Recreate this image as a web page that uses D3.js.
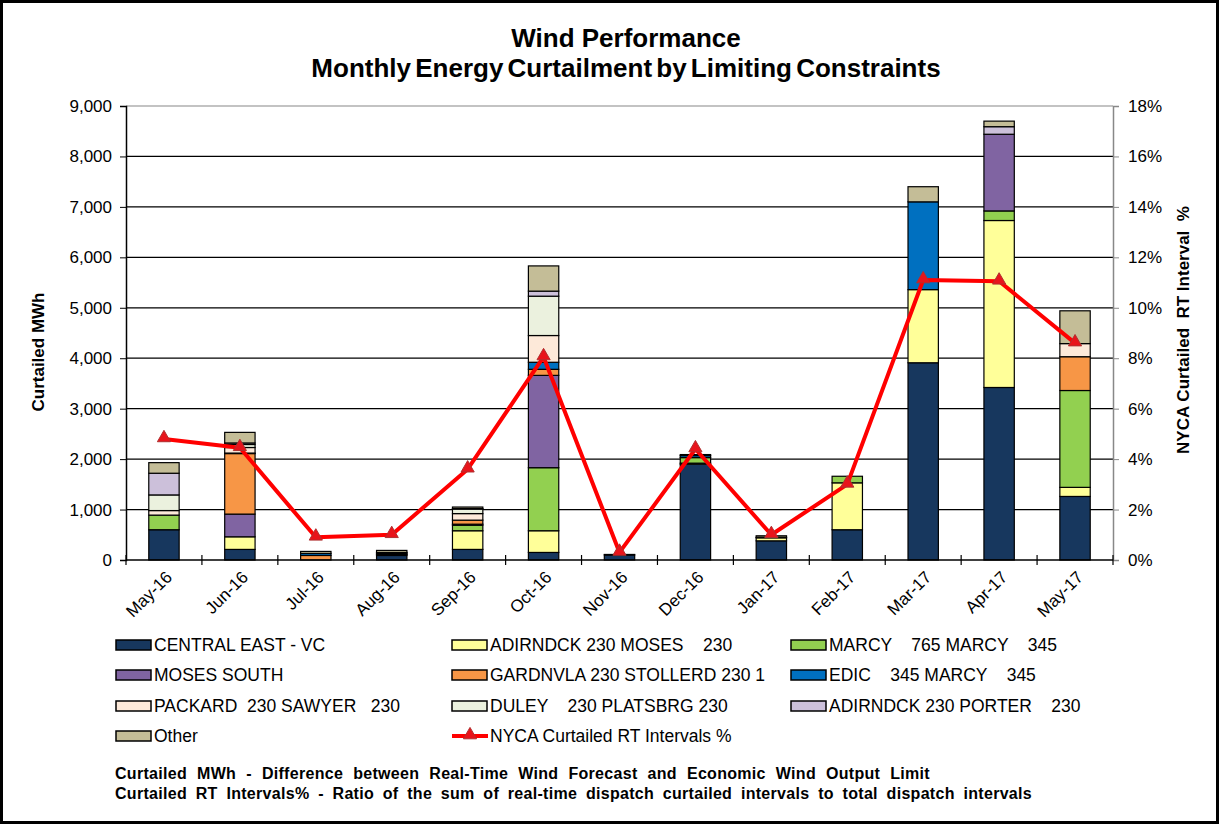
<!DOCTYPE html>
<html>
<head>
<meta charset="utf-8">
<script src="https://cdn.jsdelivr.net/npm/d3@7"></script>
<style>
  body { margin: 0; background: #fff; }
  svg text { font-family: Arial, "Liberation Sans", sans-serif; fill: #000; }
</style>
</head>
<body>
<svg id="chart" width="1220" height="826"></svg>
<script>
// Values (MWh per constraint, stacked bottom to top)
const months = ['May-16', 'Jun-16', 'Jul-16', 'Aug-16', 'Sep-16', 'Oct-16', 'Nov-16',
  'Dec-16', 'Jan-17', 'Feb-17', 'Mar-17', 'Apr-17', 'May-17'];

const centralEast   = [600, 210, 0, 90, 210, 150, 100, 1900, 380, 600, 3910, 3420, 1260];
const adirndckMoses = [0, 250, 0, 0, 370, 430, 0, 20, 60, 930, 1450, 3310, 180];
const marcy         = [290, 0, 0, 0, 110, 1250, 0, 110, 10, 130, 0, 190, 1920];
const mosesSouth    = [0, 450, 0, 0, 20, 1830, 0, 0, 0, 0, 0, 1520, 0];
const gardnvla      = [0, 1200, 90, 0, 80, 120, 0, 0, 0, 0, 0, 0, 670];
const edic          = [0, 10, 40, 20, 0, 140, 10, 40, 0, 0, 1740, 0, 0];
const packard       = [90, 110, 0, 10, 130, 530, 0, 0, 0, 0, 0, 0, 260];
const duley         = [310, 60, 0, 20, 90, 780, 0, 0, 0, 0, 0, 0, 0];
const porter        = [430, 30, 0, 10, 10, 100, 0, 0, 0, 0, 0, 150, 0];
const other         = [210, 210, 40, 40, 30, 500, 0, 20, 30, 0, 300, 110, 650];

// NYCA curtailed RT intervals, percent
const curtailedPct = [4.8, 4.45, 0.9, 1.0, 3.6, 8.05, 0.3, 4.4, 1.0, 3.0, 11.1, 11.05, 8.6];

const seriesNames = ['CENTRAL EAST - VC', 'ADIRNDCK 230 MOSES    230', 'MARCY    765 MARCY    345',
  'MOSES SOUTH', 'GARDNVLA 230 STOLLERD 230 1', 'EDIC    345 MARCY    345',
  'PACKARD  230 SAWYER   230', 'DULEY    230 PLATSBRG 230', 'ADIRNDCK 230 PORTER    230', 'Other'];
const seriesValues = [centralEast, adirndckMoses, marcy, mosesSouth, gardnvla, edic,
  packard, duley, porter, other];
const seriesColors = ['#17375E', '#FFFF99', '#92D050', '#8064A2', '#F79646', '#0070C0',
  '#FDE9D9', '#EBF1DE', '#CCC0DA', '#C4BD97'];
const lineName = 'NYCA Curtailed RT Intervals %';

const yTicks = [0, 1000, 2000, 3000, 4000, 5000, 6000, 7000, 8000, 9000];
const y2Ticks = [0, 0.02, 0.04, 0.06, 0.08, 0.10, 0.12, 0.14, 0.16, 0.18];

var svg = d3.select('#chart');

// frame
svg.append('rect')
  .attr('x', 1.5).attr('y', 1.5)
  .attr('width', 1216).attr('height', 821)
  .attr('fill', '#fff')
  .attr('stroke', '#000')
  .attr('stroke-width', 3);

var plotLeft = 126, plotRight = 1113, plotTop = 106, plotBottom = 560;

var x = d3.scaleBand()
  .domain(months)
  .range([plotLeft, plotRight])
  .paddingInner(0.6)
  .paddingOuter(0.3);

var y = d3.scaleLinear().domain([0, 9000]).range([plotBottom, plotTop]);
var y2 = d3.scaleLinear().domain([0, 0.18]).range([plotBottom, plotTop]);

// gridlines
svg.append('g')
  .selectAll('line')
  .data(yTicks.slice(1))
  .enter()
  .append('line')
  .attr('x1', plotLeft).attr('x2', plotRight)
  .attr('y1', d => y(d)).attr('y2', d => y(d))
  .attr('stroke', d => (d === 9000 ? '#888' : '#000'))
  .attr('stroke-width', 1.2);

// stacked bars
var rows = months.map(function(m, i) {
  var row = { month: m };
  seriesNames.forEach(function(name, s) {
    row[name] = seriesValues[s][i];
  });
  return row;
});

var stacked = d3.stack().keys(seriesNames)(rows);

svg.append('g')
  .selectAll('g')
  .data(stacked)
  .enter()
  .append('g')
  .attr('fill', (d, i) => seriesColors[i])
  .selectAll('rect')
  .data(d => d.filter(p => p[1] - p[0] > 0))
  .enter()
  .append('rect')
  .attr('x', d => x(d.data.month))
  .attr('width', x.bandwidth())
  .attr('y', d => y(d[1]))
  .attr('height', d => y(d[0]) - y(d[1]))
  .attr('stroke', '#000')
  .attr('stroke-width', 1.2);

// left axis
var yAxis = svg.append('g')
  .attr('transform', 'translate(' + plotLeft + ',0)')
  .call(d3.axisLeft(y).tickValues(yTicks).tickFormat(d3.format(',')).tickSize(6).tickPadding(8));
yAxis.select('.domain').attr('stroke', '#000').attr('stroke-width', 1.5);
yAxis.selectAll('text').style('font-size', '17px').style('font-family', 'Arial, "Liberation Sans", sans-serif');

// right axis
var y2Axis = svg.append('g')
  .attr('transform', 'translate(' + plotRight + ',0)')
  .call(d3.axisRight(y2).tickValues(y2Ticks).tickFormat(d3.format('.0%')).tickSize(6).tickPadding(9));
y2Axis.select('.domain').attr('stroke', '#888').attr('stroke-width', 1.5);
y2Axis.selectAll('.tick line').attr('stroke', '#888');
y2Axis.selectAll('text').style('font-size', '17px').style('font-family', 'Arial, "Liberation Sans", sans-serif');

// x axis: line, ticks between categories, rotated labels
var step = x.step();
var xAxis = svg.append('g');
xAxis.append('line')
  .attr('x1', plotLeft).attr('x2', plotRight)
  .attr('y1', plotBottom).attr('y2', plotBottom)
  .attr('stroke', '#000').attr('stroke-width', 1.5);
xAxis.selectAll('.xtick')
  .data([plotLeft].concat(months.map(m => x(m) + x.bandwidth() / 2 + step / 2)))
  .enter()
  .append('line')
  .attr('x1', d => d).attr('x2', d => d)
  .attr('y1', plotBottom - 5).attr('y2', plotBottom + 5)
  .attr('stroke', '#000').attr('stroke-width', 1.2);
xAxis.selectAll('text')
  .data(months)
  .enter()
  .append('text')
  .attr('transform', d => 'translate(' + (x(d) + x.bandwidth() / 2 + 5) + ',' + (plotBottom + 14) + ') rotate(-45)')
  .attr('text-anchor', 'end')
  .attr('dy', '0.35em')
  .style('font-size', '17px')
  .text(d => d);

// line series
var pts = months.map((m, i) => [x(m) + x.bandwidth() / 2, y2(curtailedPct[i] / 100)]);
svg.append('path')
  .datum(pts)
  .attr('d', d3.line())
  .attr('fill', 'none')
  .attr('stroke', '#FF0000')
  .attr('stroke-width', 4)
  .attr('stroke-linejoin', 'round');

var tri = d3.symbol().type(d3.symbolTriangle).size(75);
svg.append('g')
  .selectAll('path')
  .data(pts)
  .enter()
  .append('path')
  .attr('d', tri)
  .attr('transform', d => 'translate(' + d[0] + ',' + (d[1] - 1) + ')')
  .attr('fill', '#E8141B')
  .attr('stroke', '#B03030')
  .attr('stroke-width', 1);

// axis titles
svg.append('text')
  .attr('transform', 'translate(44,352) rotate(-90)')
  .attr('text-anchor', 'middle')
  .style('font-size', '17px')
  .style('font-weight', 'bold')
  .text('Curtailed MWh');

svg.append('text')
  .attr('transform', 'translate(1189,330) rotate(-90)')
  .attr('text-anchor', 'middle')
  .style('font-size', '17px')
  .style('font-weight', 'bold')
  .style('white-space', 'pre')
  .text('NYCA Curtailed  RT Interval  %');

// title
svg.append('text')
  .attr('x', 626).attr('y', 47)
  .attr('text-anchor', 'middle')
  .style('font-size', '26px')
  .style('font-weight', 'bold')
  .text('Wind Performance');
svg.append('text')
  .attr('x', 626).attr('y', 77)
  .attr('text-anchor', 'middle')
  .style('font-size', '26px')
  .style('font-weight', 'bold')
  .style('word-spacing', '-3px')
  .text('Monthly Energy Curtailment by Limiting Constraints');

// legend
var colX = [116, 452, 791];
var rowY = [645, 675, 706, 736];
var legendItems = seriesNames.map((n, i) => ({ name: n, color: seriesColors[i] }));
legendItems.push({ name: lineName, line: true });

var legend = svg.append('g')
  .selectAll('g')
  .data(legendItems)
  .enter()
  .append('g')
  .attr('transform', (d, i) => 'translate(' + colX[i % 3] + ',' + rowY[Math.floor(i / 3)] + ')');

legend.filter(d => !d.line)
  .append('rect')
  .attr('x', 0).attr('y', -5)
  .attr('width', 35).attr('height', 10)
  .attr('fill', d => d.color)
  .attr('stroke', '#000')
  .attr('stroke-width', 1.5);

var lineLegend = legend.filter(d => d.line);
lineLegend.append('line')
  .attr('x1', 0).attr('x2', 36)
  .attr('y1', 0).attr('y2', 0)
  .attr('stroke', '#FF0000')
  .attr('stroke-width', 4);
lineLegend.append('path')
  .attr('d', tri)
  .attr('transform', 'translate(18,-1)')
  .attr('fill', '#E8141B')
  .attr('stroke', '#B03030');

legend.append('text')
  .attr('x', 38)
  .attr('dy', '0.36em')
  .style('font-size', '17.5px')
  .style('white-space', 'pre')
  .text(d => d.name);

// footnotes: widen the word gaps to the width they have in the picture
var notes = [
  { text: 'Curtailed MWh - Difference between Real-Time Wind Forecast and Economic Wind Output Limit', y: 779, width: 815 },
  { text: 'Curtailed RT Intervals% - Ratio of the sum of real-time dispatch curtailed intervals to total dispatch intervals', y: 799, width: 917 }
];
svg.append('g')
  .selectAll('text')
  .data(notes)
  .enter()
  .append('text')
  .attr('x', 115).attr('y', d => d.y)
  .style('font-size', '16px')
  .style('font-weight', 'bold')
  .style('letter-spacing', '0.3px')
  .text(d => d.text)
  .each(function(d) {
    var len = this.getComputedTextLength();
    var gaps = d.text.split(' ').length - 1;
    if (len < d.width) d3.select(this).style('word-spacing', ((d.width - len) / gaps) + 'px');
  });
</script>
</body>
</html>
